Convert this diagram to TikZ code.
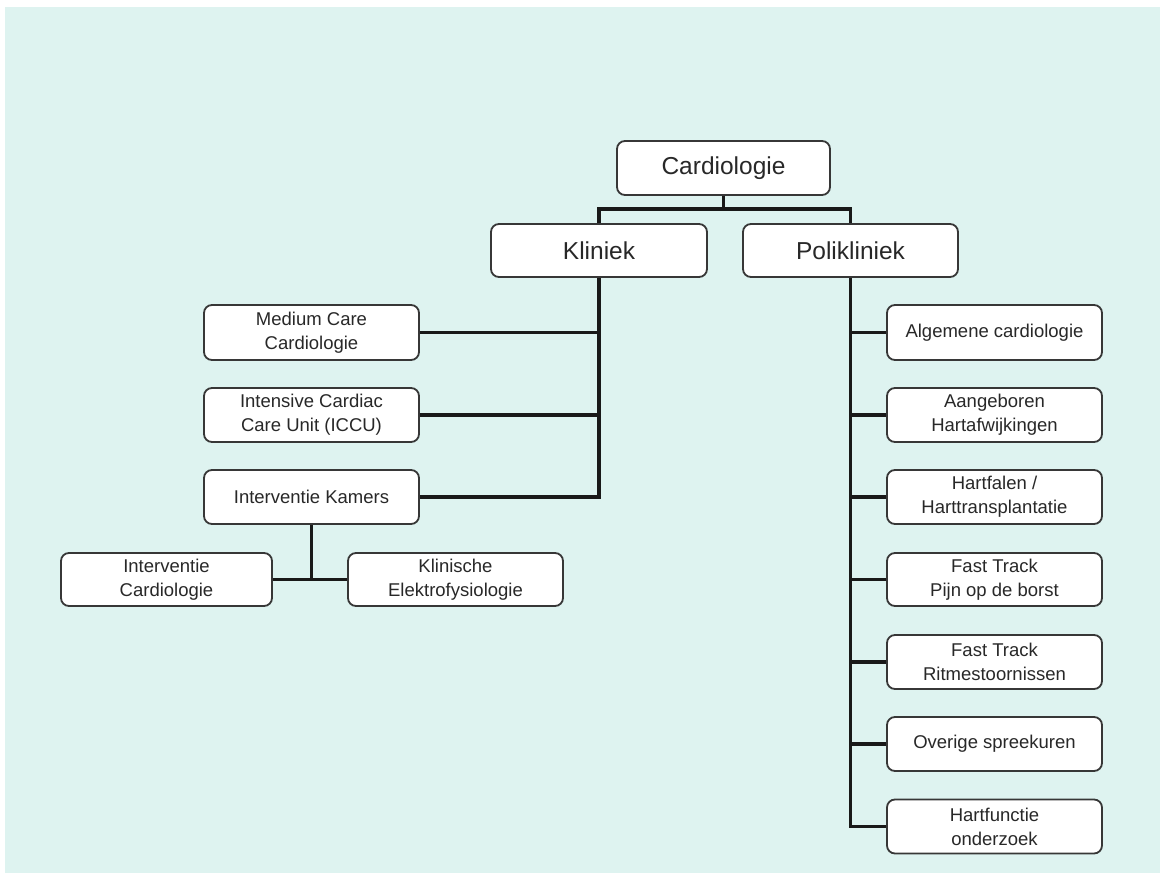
\documentclass[tikz,border=0pt]{standalone}
\usepackage{fontspec}
\setmainfont{Liberation Sans}
\definecolor{bgc}{RGB}{222,243,240}
\definecolor{edge}{RGB}{55,55,55}
\definecolor{txt}{RGB}{40,40,40}
\tikzset{
  box/.style={draw=edge, line width=1.8pt, fill=white, rounded corners=8pt,
    align=center, text=txt, inner sep=0pt,
    font=\fontsize{18.5}{24}\selectfont},
  bigbox/.style={box, font=\fontsize{24.5}{28}\selectfont},
  conn/.style={line width=3.2pt, draw=black!90}
}
\begin{document}
\begin{tikzpicture}[x=1pt,y=-1pt]
\useasboundingbox (0,0) rectangle (1160,873);
\fill[white] (0,0) rectangle (1160,873);
\fill[bgc] (5,7) rectangle (1160,873);

% top level
\node[bigbox, minimum width=213pt, minimum height=54pt] (card) at (723.5,168) {Cardiologie};
\node[bigbox, minimum width=216pt, minimum height=53pt] (klin) at (599,250.5) {Kliniek};
\node[bigbox, minimum width=215pt, minimum height=53pt] (poli) at (850.5,250.5) {Polikliniek};

% Kliniek children
\node[box, minimum width=215pt, minimum height=55pt] (mc) at (311.5,332.5) {Medium Care\\Cardiologie};
\node[box, minimum width=215pt, minimum height=54pt] (iccu) at (311.5,415) {Intensive Cardiac\\Care Unit (ICCU)};
\node[box, minimum width=215pt, minimum height=54pt] (ik) at (311.5,497) {Interventie Kamers};
\node[box, minimum width=211pt, minimum height=53pt] (ic) at (166.5,579.5) {Interventie\\Cardiologie};
\node[box, minimum width=215pt, minimum height=53pt] (ke) at (455.5,579.5) {Klinische\\Elektrofysiologie};

% Polikliniek children
\node[box, minimum width=215pt, minimum height=55pt] (p1) at (994.5,332.5) {Algemene cardiologie};
\node[box, minimum width=215pt, minimum height=54pt] (p2) at (994.5,415) {Aangeboren\\Hartafwijkingen};
\node[box, minimum width=215pt, minimum height=54pt] (p3) at (994.5,497) {Hartfalen /\\Harttransplantatie};
\node[box, minimum width=215pt, minimum height=53pt] (p4) at (994.5,579.5) {Fast Track\\Pijn op de borst};
\node[box, minimum width=215pt, minimum height=54pt] (p5) at (994.5,662) {Fast Track\\Ritmestoornissen};
\node[box, minimum width=215pt, minimum height=54pt] (p6) at (994.5,744) {Overige spreekuren};
\node[box, minimum width=215pt, minimum height=54pt] (p7) at (994.5,826.5) {Hartfunctie\\onderzoek};

% connectors
\coordinate (bus) at (723.5,209);
\begin{scope}[on background layer/.style={}]
\end{scope}
\draw[conn] (card.south) -- (bus);
\draw[conn] (klin.north) -- (klin.north |- bus) -- (poli.north |- bus) -- (poli.north);

\draw[conn] (klin.south) -- (klin.south |- ik.east) -- (ik.east);
\draw[conn] (mc.east) -- (klin.south |- mc.east);
\draw[conn] (iccu.east) -- (klin.south |- iccu.east);

\draw[conn] (ik.south) -- (ik.south |- ic.east);
\draw[conn] (ic.east) -- (ke.west);

\draw[conn] (poli.south) -- (poli.south |- p7.west) -- (p7.west);
\foreach \n in {p1,p2,p3,p4,p5,p6}{
  \draw[conn] (\n.west) -- (poli.south |- \n.west);
}
\end{tikzpicture}
\end{document}
